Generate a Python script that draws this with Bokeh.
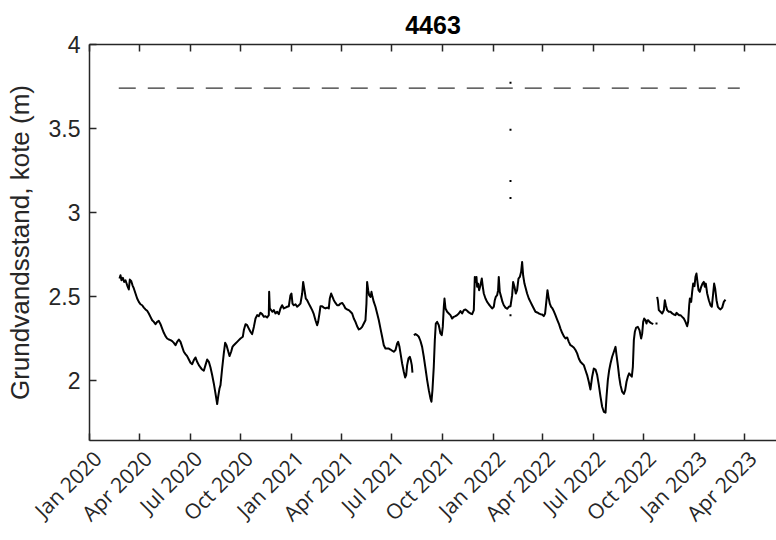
import math
import numpy as np
import pandas as pd
from bokeh.plotting import figure
from bokeh.models import (ColumnDataSource, Range1d, FixedTicker, DatetimeAxis,
                          DatetimeTickFormatter, NumeralTickFormatter,
                          CustomJSTickFormatter)
from bokeh.embed import file_html
from bokeh.resources import INLINE

# ---------------- data (days since 2020-01-01, level in m) ----------------
ORIGIN = "2020-01-01"

seg_a_days = [
    54.3, 56.1, 57.9, 60.4, 62.8, 65.2, 68.2, 71.2, 73.0, 75.4,
    77.9, 80.3, 83.3, 86.3, 89.3, 92.3, 95.4, 98.4, 101.4, 104.4,
    107.4, 110.4, 113.5, 116.5, 119.5, 122.5, 125.5, 128.6, 131.6, 134.6,
    137.6, 140.6, 143.6, 146.7, 149.7, 152.7, 155.7, 158.7, 161.8, 164.8,
    167.8, 170.8, 173.8, 176.8, 179.9, 182.9, 185.9, 188.9, 191.9, 194.9,
    198.0, 201.0, 204.0, 207.0, 210.0, 213.1, 216.1, 219.1, 222.1, 225.1,
    228.1, 231.2, 233.0, 235.4, 237.2, 240.2, 243.2, 245.6, 248.1, 250.5,
    253.5, 256.5, 258.9, 261.3, 264.4, 267.4, 270.4, 273.4, 277.6, 279.5,
    282.5, 285.5, 288.5, 291.5, 294.5, 297.6, 300.6, 303.6, 306.6, 309.6,
    312.6, 315.6, 318.7, 321.7, 324.7, 325.3, 326.5, 328.9, 331.3, 333.8,
    336.8, 339.8, 342.8, 345.8, 348.8, 351.9, 354.9, 357.9, 360.9, 363.9,
    365.7, 367.6, 370.0, 373.0, 376.0, 379.0, 382.0, 385.1, 386.9, 389.3,
    391.7, 394.1, 397.1, 400.1, 403.2, 406.2, 409.2, 412.2, 414.0, 416.4,
    418.2, 421.3, 424.3, 427.3, 430.3, 433.3, 435.1, 437.6, 440.0, 442.4,
    445.4, 448.4, 451.4, 454.5, 457.5, 460.5, 463.5, 466.5, 469.6, 472.6,
    475.6, 478.6, 481.6, 484.6, 487.7, 490.7, 493.7, 496.7, 499.7, 501.5,
    502.7, 504.6, 506.4, 508.8, 510.6, 512.4, 514.8, 517.8, 520.9, 523.9,
    526.9, 529.9, 532.9, 535.9, 539.0, 542.0, 545.0, 548.0, 551.0, 554.1,
    557.1, 558.9, 561.3, 563.7, 566.1, 569.1, 571.6, 573.4, 575.2, 577.6,
    580.0, 581.8, 583.6, 584.8,
]
seg_a_level = [
    2.605, 2.625, 2.595, 2.609, 2.585, 2.595, 2.565, 2.540, 2.599, 2.591,
    2.565, 2.546, 2.516, 2.486, 2.466, 2.452, 2.446, 2.432, 2.421, 2.413,
    2.397, 2.377, 2.357, 2.347, 2.333, 2.347, 2.353, 2.333, 2.307, 2.282,
    2.262, 2.248, 2.242, 2.238, 2.232, 2.222, 2.208, 2.228, 2.242, 2.228,
    2.198, 2.169, 2.155, 2.143, 2.123, 2.103, 2.095, 2.119, 2.135, 2.109,
    2.089, 2.075, 2.063, 2.056, 2.089, 2.123, 2.109, 2.075, 2.030, 1.980,
    1.921, 1.857, 1.901, 1.950, 1.970, 2.069, 2.159, 2.222, 2.208, 2.179,
    2.143, 2.169, 2.198, 2.208, 2.218, 2.228, 2.238, 2.248, 2.258, 2.298,
    2.333, 2.327, 2.307, 2.288, 2.274, 2.317, 2.367, 2.387, 2.381, 2.401,
    2.393, 2.377, 2.381, 2.373, 2.387, 2.526, 2.427, 2.417, 2.407, 2.417,
    2.397, 2.407, 2.393, 2.427, 2.446, 2.427, 2.432, 2.437, 2.440, 2.506,
    2.516, 2.456, 2.446, 2.452, 2.437, 2.446, 2.456, 2.516, 2.585, 2.536,
    2.486, 2.476, 2.456, 2.437, 2.417, 2.393, 2.357, 2.327, 2.347, 2.397,
    2.440, 2.440, 2.432, 2.427, 2.432, 2.427, 2.486, 2.516, 2.496, 2.476,
    2.460, 2.446, 2.446, 2.456, 2.460, 2.446, 2.427, 2.421, 2.417, 2.407,
    2.397, 2.367, 2.347, 2.321, 2.302, 2.307, 2.317, 2.337, 2.357, 2.456,
    2.585, 2.536, 2.506, 2.496, 2.526, 2.496, 2.466, 2.437, 2.397, 2.357,
    2.307, 2.258, 2.208, 2.188, 2.188, 2.188, 2.182, 2.175, 2.169, 2.179,
    2.218, 2.228, 2.198, 2.149, 2.099, 2.050, 2.016, 2.030, 2.089, 2.129,
    2.139, 2.119, 2.089, 2.044,
]

seg_b_days = [
    587.3, 590.3, 593.3, 596.3, 599.3, 602.3, 605.3, 608.4, 611.4, 614.4,
    617.4, 619.2, 621.0, 623.4, 625.3, 627.1, 629.5, 632.5, 635.5, 637.9,
    639.7, 641.6, 642.8, 644.6, 647.6, 650.6, 653.6, 656.6, 659.7, 662.7,
    665.7, 668.7, 671.7, 674.7, 677.8, 680.8, 683.8, 686.8, 689.8, 692.9,
    695.9, 697.7, 699.5, 700.7, 701.9, 703.7, 705.5, 707.9, 710.4, 712.2,
    714.0, 717.0, 720.0, 723.0, 726.0, 729.1, 732.1, 733.9, 735.7, 738.1,
    739.9, 741.1, 742.9, 745.4, 747.8, 750.2, 753.2, 756.2, 759.2, 762.3,
    765.3, 767.1, 769.5, 771.9, 774.3, 776.8, 779.2, 781.6, 783.4, 785.2,
    787.6, 790.0, 792.4, 795.5, 798.5, 801.5, 804.5, 807.5, 810.6, 813.6,
    816.6, 819.6, 822.6, 825.0, 827.5, 829.3, 831.1, 833.5, 835.9, 838.3,
    840.7, 843.7, 846.8, 849.8, 852.8, 855.8, 858.8, 861.9, 864.9, 867.9,
    870.9, 873.9, 876.9, 880.0, 883.0, 886.0, 889.0, 892.0, 895.1, 898.1,
    901.1, 904.1, 907.1, 910.2, 913.2, 916.3, 919.3, 922.3, 925.3, 928.3,
    931.3, 934.4, 936.2, 938.6, 941.0, 943.4, 946.4, 949.5, 952.5, 954.3,
    956.7, 959.1, 961.5, 964.5, 967.6, 970.0, 972.4, 974.8, 977.2, 979.6,
    982.0, 983.9, 985.7, 987.5, 989.9, 992.9, 995.9, 998.9, 1000.8, 1002.6,
    1004.4, 1006.8, 1008.6, 1009.8, 1011.6, 1014.0, 1016.4, 1018.9, 1020.7,
]
seg_b_level = [
    2.268, 2.274, 2.268, 2.258, 2.233, 2.198, 2.139, 2.069, 2.000, 1.940,
    1.891, 1.871, 1.940, 2.079, 2.238, 2.337, 2.347, 2.327, 2.278, 2.268,
    2.317, 2.437, 2.486, 2.427, 2.407, 2.397, 2.387, 2.367, 2.377, 2.381,
    2.387, 2.397, 2.411, 2.397, 2.417, 2.421, 2.413, 2.403, 2.397, 2.393,
    2.417, 2.615, 2.585, 2.615, 2.556, 2.575, 2.536, 2.565, 2.605, 2.556,
    2.516, 2.486, 2.466, 2.452, 2.440, 2.427, 2.437, 2.476, 2.496, 2.506,
    2.536, 2.615, 2.526, 2.496, 2.466, 2.446, 2.432, 2.425, 2.437, 2.440,
    2.506, 2.585, 2.556, 2.516, 2.536, 2.605, 2.615, 2.645, 2.704, 2.625,
    2.575, 2.546, 2.516, 2.486, 2.466, 2.446, 2.427, 2.407, 2.403, 2.397,
    2.393, 2.391, 2.381, 2.397, 2.476, 2.536, 2.496, 2.456, 2.437, 2.427,
    2.411, 2.387, 2.361, 2.337, 2.307, 2.282, 2.262, 2.248, 2.254, 2.228,
    2.208, 2.202, 2.194, 2.179, 2.159, 2.129, 2.109, 2.099, 2.089, 2.059,
    2.030, 1.990, 1.944, 2.020, 2.069, 2.063, 2.030, 1.970, 1.901, 1.841,
    1.811, 1.806, 1.901, 2.000, 2.059, 2.099, 2.139, 2.169, 2.198, 2.149,
    2.089, 2.020, 1.970, 1.931, 1.917, 1.940, 1.990, 2.020, 2.040, 2.030,
    2.020, 2.079, 2.238, 2.288, 2.313, 2.317, 2.298, 2.248, 2.278, 2.347,
    2.367, 2.357, 2.337, 2.353, 2.357, 2.347, 2.341, 2.337, 2.333,
]

seg_c_days = [
    1027.9, 1029.1, 1030.9, 1033.9, 1037.0, 1040.0, 1041.8, 1043.6, 1046.0, 1049.0,
    1052.1, 1055.1, 1058.1, 1061.1, 1062.9, 1065.3, 1067.7, 1070.2, 1073.2, 1076.2,
    1079.2, 1082.2, 1084.0, 1085.9, 1087.1, 1089.5, 1091.3, 1093.1, 1095.5, 1097.3,
    1099.1, 1100.9, 1102.8, 1105.2, 1107.6, 1110.0, 1112.4, 1114.2, 1116.0, 1118.5,
    1121.5, 1124.5, 1126.9, 1129.3, 1131.1, 1132.9, 1135.4, 1137.8, 1140.2, 1142.6,
    1145.6, 1148.6, 1151.6,
]
seg_c_level = [
    2.496, 2.476, 2.417, 2.407, 2.397, 2.417, 2.476, 2.446, 2.417, 2.407,
    2.407, 2.397, 2.391, 2.387, 2.401, 2.393, 2.387, 2.387, 2.377, 2.367,
    2.347, 2.321, 2.347, 2.446, 2.486, 2.466, 2.526, 2.575, 2.560, 2.615,
    2.635, 2.585, 2.536, 2.526, 2.556, 2.575, 2.585, 2.556, 2.575, 2.516,
    2.476, 2.446, 2.437, 2.516, 2.575, 2.546, 2.476, 2.437, 2.427, 2.421,
    2.432, 2.466, 2.480,
]

# isolated single readings
point_days = [762.3, 762.3, 762.3, 762.3, 762.3, 1026.7]
point_level = [3.772, 3.492, 3.186, 3.085, 2.387, 2.337]

# reference level (dashed)
ref_days = [53.0, 1177.5]
ref_level = [3.74, 3.74]

tick_dates = ["2020-01-01", "2020-04-01", "2020-07-01", "2020-10-01",
              "2021-01-01", "2021-04-01", "2021-07-01", "2021-10-01",
              "2022-01-01", "2022-04-01", "2022-07-01", "2022-10-01",
              "2023-01-01", "2023-04-01"]
y_ticks = [2, 2.5, 3, 3.5, 4]
x_start, x_end = "2020-01-01", "2023-05-29"
y_start, y_end = 1.64, 4.0

TITLE = "4463"
YLABEL = "Grundvandsstand, kote (m)"

FRAME_W = 687          # frame width in px (used only to nudge rotated labels)
LABEL_SHIFT_PX = 8     # rotated labels sit slightly right of their tick


def to_dates(days):
    return pd.Timestamp(ORIGIN) + pd.to_timedelta(np.asarray(days, dtype=float), unit="D")


AX = "#262626"
x0, x1 = pd.Timestamp(x_start), pd.Timestamp(x_end)
p = figure(width=776, height=540, x_axis_type="datetime",
           x_range=Range1d(x0, x1), y_range=Range1d(y_start, y_end),
           output_backend="svg", toolbar_location=None,
           min_border_left=89, min_border_right=0,
           min_border_top=44, min_border_bottom=100)
p.grid.visible = False
p.outline_line_color = None
p.background_fill_color = "white"
p.border_fill_color = "white"

tick_ms = [pd.Timestamp(d).value // 10**6 for d in tick_dates]
blank = CustomJSTickFormatter(code="return ''")
fmt = "%b %Y"
xfmt = DatetimeTickFormatter(years=fmt, months=fmt, days=fmt, hours=fmt,
                             minutes=fmt, seconds=fmt, milliseconds=fmt,
                             microseconds=fmt, hourmin=fmt, minsec=fmt)

# main bottom axis: line + inward ticks
xa = p.xaxis[0]
xa.ticker = FixedTicker(ticks=tick_ms)
xa.formatter = blank
xa.major_label_standoff = 0

# label axis: same ticks, range nudged so rotated labels sit like the original
shift = (x1 - x0) * LABEL_SHIFT_PX / FRAME_W
p.extra_x_ranges = {"lab": Range1d(x0 - shift, x1 - shift)}
lab = DatetimeAxis(x_range_name="lab", ticker=FixedTicker(ticks=tick_ms),
                   formatter=xfmt)
lab.axis_line_color = None
lab.major_tick_line_color = None
lab.minor_tick_line_color = None
lab.major_tick_in = 0
lab.major_tick_out = 0
lab.minor_tick_in = 0
lab.minor_tick_out = 0
lab.major_label_orientation = math.pi / 4
lab.major_label_text_font = "Open Sans"
lab.major_label_text_font_size = "21px"
lab.major_label_text_color = AX
lab.major_label_standoff = 14
p.add_layout(lab, "below")

ya = p.yaxis[0]
ya.ticker = FixedTicker(ticks=y_ticks)
ya.formatter = NumeralTickFormatter(format="0.[0]")
ya.major_label_text_font = "Liberation Sans"
ya.major_label_text_font_size = "23px"
ya.major_label_text_color = AX
ya.major_label_standoff = 9
ya.axis_label = YLABEL
ya.axis_label_text_font = "Liberation Sans"
ya.axis_label_text_font_size = "26px"
ya.axis_label_text_font_style = "normal"
ya.axis_label_text_color = AX
ya.axis_label_standoff = 11

top = DatetimeAxis(ticker=FixedTicker(ticks=tick_ms), formatter=blank,
                   major_label_standoff=0)
p.add_layout(top, "above")

for ax in (xa, ya, top):
    ax.axis_line_color = AX
    ax.axis_line_width = 1.5
    ax.major_tick_line_color = AX
    ax.major_tick_line_width = 1.5
    ax.major_tick_in = 7
    ax.major_tick_out = 0
    ax.minor_tick_in = 0
    ax.minor_tick_out = 0

p.title.text = TITLE
p.title.align = "center"
p.title.text_font = "Liberation Sans"
p.title.text_font_style = "bold"
p.title.text_font_size = "25px"
p.title.text_color = "black"
p.title.standoff = 21

# reference level
p.line(to_dates(ref_days), ref_level, line_color="#333333", line_width=1.1,
       line_dash="17 12")

for d, v in ((seg_a_days, seg_a_level), (seg_b_days, seg_b_level), (seg_c_days, seg_c_level)):
    src = ColumnDataSource(dict(date=to_dates(d), level=v))
    p.line("date", "level", source=src, line_color="black", line_width=2,
           line_join="round")

psrc = ColumnDataSource(dict(date=to_dates(point_days), level=point_level))
p.scatter("date", "level", source=psrc, marker="square", size=2,
          fill_color="black", line_color=None)

open("out.html", "w").write(file_html(p, INLINE))
